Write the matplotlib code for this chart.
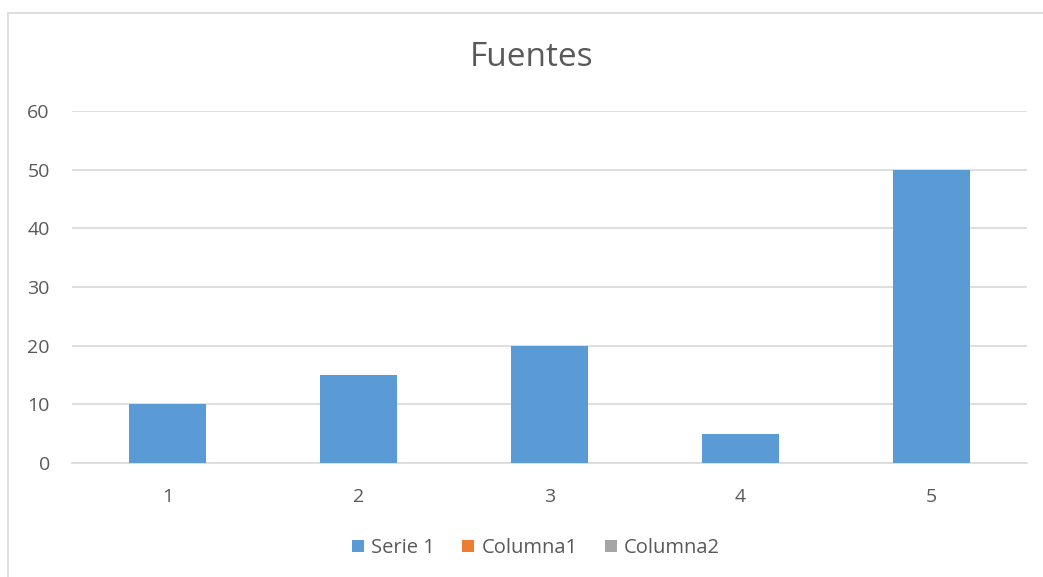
import matplotlib
matplotlib.use("Agg")
import matplotlib.pyplot as plt
from matplotlib.patches import Rectangle, Patch

categories = ["1", "2", "3", "4", "5"]
serie1 = [10, 15, 20, 5, 50]
yticks = [0, 10, 20, 30, 40, 50, 60]
legend_labels = ["Serie 1", "Columna1", "Columna2"]
legend_colors = ["#5B9BD5", "#ED7D31", "#A5A5A5"]
title = "Fuentes"

W, H = 1043, 577
fig = plt.figure(figsize=(W / 100, H / 100), dpi=100)
plt.rcParams['font.family'] = ['Open Sans', 'DejaVu Sans']
txt = "#595959"

# chart border (extends past the right/bottom edges)
fig.patches.append(Rectangle((7.5 / W, -0.1), 1.2, 1 - 12.5 / H + 0.1,
                             transform=fig.transFigure, fill=False,
                             edgecolor="#D9D9D9", linewidth=1.2))

left, right = 72 / W, 1027 / W
bottom, top = 1 - 463 / H, 1 - 111 / H
ax = fig.add_axes([left, bottom, right - left, top - bottom])
x = list(range(len(categories)))
ax.bar(x, serie1, width=0.4, color=legend_colors[0], zorder=3)
ax.set_xlim(-0.5, len(categories) - 0.5)
ax.set_ylim(0, 60)
ax.set_yticks(yticks)
ax.set_xticks(x)
ax.set_xticklabels(categories)
ax.grid(axis="y", color="#D9D9D9", linewidth=1.2, zorder=0)
for s in ["top", "right", "left"]:
    ax.spines[s].set_visible(False)
ax.spines["bottom"].set_color("#D9D9D9")
ax.spines["bottom"].set_linewidth(1.2)
ax.tick_params(length=0, labelsize=14, colors=txt)
ax.tick_params(axis="y", pad=16)
ax.tick_params(axis="x", pad=18)

fig.text(532 / W, 1 - 57 / H, title, ha="center", va="center",
         fontsize=24, color=txt)

handles = [Patch(facecolor=c, edgecolor="none") for c in legend_colors]
fig.legend(handles, legend_labels, loc="center", bbox_to_anchor=(536 / W, 1 - 548 / H),
           ncol=3, frameon=False, fontsize=14.5, labelcolor=txt,
           handlelength=0.6, handleheight=0.6, handletextpad=0.35, columnspacing=1.35)

fig.savefig("out.png", dpi=100)
